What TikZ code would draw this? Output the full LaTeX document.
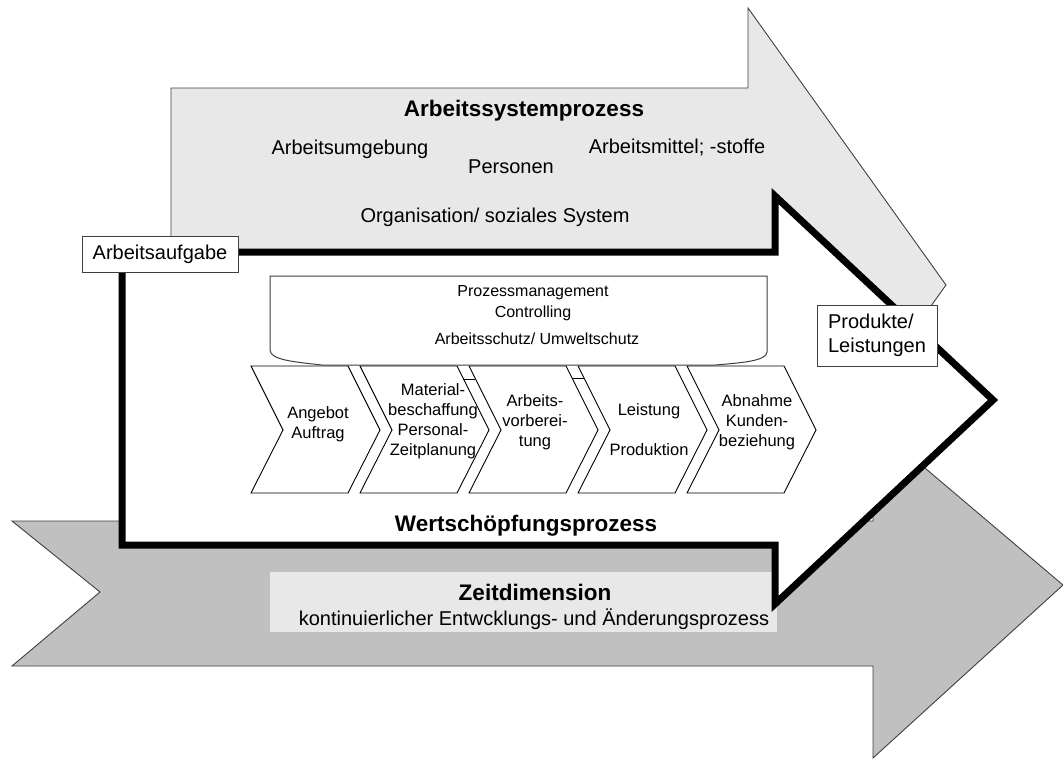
\documentclass[tikz,border=0pt]{standalone}
\usepackage{fontspec}
\setmainfont{Liberation Sans}
\definecolor{lightgr}{HTML}{E8E8E8}
\definecolor{midgr}{HTML}{C0C0C0}
\definecolor{edgegr}{HTML}{404040}
\begin{document}
\begin{tikzpicture}[x=1pt,y=-1pt,
  txt/.style={anchor=base,font=\fontsize{20}{24}\selectfont},
  head/.style={anchor=base,font=\fontsize{22.5}{26}\selectfont\bfseries},
  boxtxt/.style={anchor=base,font=\fontsize{16}{20}\selectfont},
  chevtxt/.style={align=center,font=\fontsize{16.5}{20}\selectfont},
  tag/.style={draw=edgegr,line width=1pt,fill=white,inner sep=0pt,font=\fontsize{20}{24}\selectfont},
  chev/.style={draw=black,line width=0.9pt,fill=white}]
\useasboundingbox (0,0) rectangle (1063,760);
% Arbeitssystemprozess
\filldraw[fill=lightgr,draw=edgegr,line width=0.9pt] (171,88) -- (748,88) -- (748,8) -- (946,285) -- (748,562) -- (748,482) -- (171,482) -- cycle;
% Zeitdimension
\filldraw[fill=midgr,draw=edgegr,line width=0.9pt] (12,521) -- (873,521) -- (873,424) -- (1063,585) -- (873,758) -- (873,666) -- (12,666) -- (100,592) -- cycle;
\fill[lightgr] (270,572) rectangle (777,632);
% Wertschoepfungsprozess
\filldraw[fill=white,draw=black,line width=7pt] (122,252) -- (775,252) -- (775,196) -- (993,400) -- (775,604) -- (775,545) -- (122,545) -- cycle;
% process chain
\draw[chev] (251,366) -- (348,366) -- (380,430) -- (348,493) -- (251,493) -- (283,430) -- cycle;
\draw[chev] (360,366) -- (457,366) -- (489,430) -- (457,493) -- (360,493) -- (392,430) -- cycle;
\draw[chev] (469,366) -- (566,366) -- (598,430) -- (566,493) -- (469,493) -- (501,430) -- cycle;
\draw[chev] (578,366) -- (675,366) -- (707,430) -- (675,493) -- (578,493) -- (610,430) -- cycle;
\draw[chev] (687,366) -- (784,366) -- (816,430) -- (784,493) -- (687,493) -- (719,430) -- cycle;
\draw[line width=0.9pt] (463,379) -- (475,379);
\draw[line width=0.9pt] (572,378) -- (584,378);
% management frame
\filldraw[fill=white,draw=edgegr,line width=1pt] (270,276) -- (767,276) -- (767,352) .. controls (767,361) and (740,363) .. (715,365) -- (322,365) .. controls (295,362) and (270,360) .. (270,350) -- cycle;
\node (pm1) at (533,296) [boxtxt] {Prozessmanagement};
\node (pm2) at (533,317) [boxtxt] {Controlling};
\node (pm3) at (537,344) [boxtxt] {Arbeitsschutz/ Umweltschutz};
\node (c1) at (318,424) [chevtxt] {Angebot\\Auftrag};
\node (c2) at (433,421) [chevtxt] {Material-\\beschaffung\\Personal-\\Zeitplanung};
\node (c3) at (535,422) [chevtxt] {Arbeits-\\vorberei-\\tung};
\node (c4) at (649,430) [chevtxt] {Leistung\\[20pt]Produktion};
\node (c5) at (757,422) [chevtxt] {Abnahme\\Kunden-\\beziehung};
% labels
\node (t0) at (524,116) [head] {Arbeitssystemprozess};
\node (t1) at (350,154) [txt] {Arbeitsumgebung};
\node (t2) at (511,173) [txt] {Personen};
\node (t3) at (677,153) [txt] {Arbeitsmittel; -stoffe};
\node (t4) at (495,222) [txt] {Organisation/ soziales System};
\node (w0) at (526,531) [head] {Wertschöpfungsprozess};
\node (z0) at (535,600) [head] {Zeitdimension};
\node (z1) at (534,625) [txt] {kontinuierlicher Entwcklungs- und Änderungsprozess};
\node (aa) at (160,254) [tag,minimum width=156,minimum height=36] {Arbeitsaufgabe};
\node (pl) at (877,335.5) [tag,minimum width=120,minimum height=61,align=left] {Produkte/\\Leistungen};
\end{tikzpicture}
\end{document}
